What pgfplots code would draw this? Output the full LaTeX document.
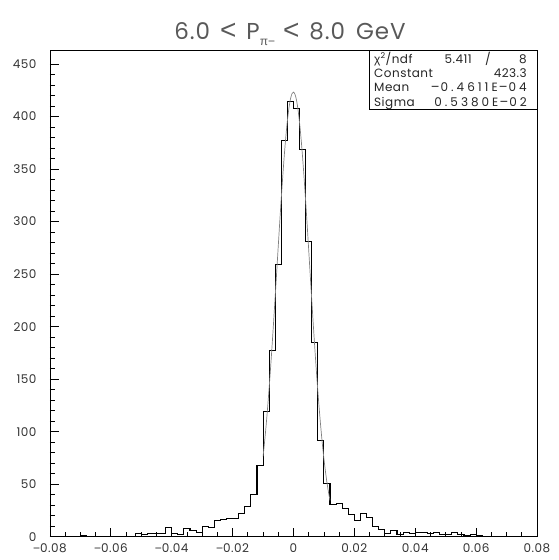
\documentclass[border=0pt]{standalone}
\usepackage{fontspec}
\setmainfont{Poppins}[LetterSpace=4, Numbers=Monospaced]
\newfontfamily\lib{Liberation Sans}
\newfontfamily\ttl{Poppins}[LetterSpace=4]
\newfontfamily\wid{Poppins}[LetterSpace=25]
\newcommand\mn{{\lib −}}
\newcommand\bmn{\makebox[11pt]{\lib\fontsize{14}{14}\selectfont −}}
\usepackage{pgfplots}
\usepackage{pgfplotstable}
\pgfplotsset{compat=1.18}
\pgfplotstableread{
x y
-0.080 0
-0.078 0
-0.076 0
-0.074 0
-0.072 0
-0.070 1
-0.068 0
-0.066 0
-0.064 0
-0.062 0
-0.060 0
-0.058 0
-0.056 0
-0.054 0
-0.052 3
-0.050 2
-0.048 3
-0.046 3
-0.044 3
-0.042 9
-0.040 3
-0.038 2
-0.036 8
-0.034 6
-0.032 4
-0.030 10
-0.028 9
-0.026 15
-0.024 16
-0.022 17
-0.020 17
-0.018 22
-0.016 29
-0.014 40
-0.012 68
-0.010 119
-0.008 177
-0.006 259
-0.004 377
-0.002 414
0.000 408
0.002 369
0.004 281
0.006 185
0.008 92
0.010 51
0.012 31
0.014 32
0.016 27
0.018 21
0.020 15
0.022 22
0.024 18
0.026 10
0.028 7
0.030 3
0.032 6
0.034 2
0.036 4
0.038 3
0.040 4
0.042 4
0.044 3
0.046 4
0.048 2
0.050 2
0.052 4
0.054 2
0.056 1
0.058 2
0.060 1
0.062 0
0.064 0
0.066 0
0.068 0
0.070 0
0.072 0
0.074 0
0.076 0
0.078 0
0.080 0
}\histdata
\pgfplotstableread{
x y
-0.0100 76.4
-0.0095 90.4
-0.0090 105.9
-0.0085 123.2
-0.0080 141.9
-0.0075 162.1
-0.0070 183.6
-0.0065 206.1
-0.0060 229.5
-0.0055 253.2
-0.0050 277.1
-0.0045 300.5
-0.0040 323.1
-0.0035 344.4
-0.0030 364.1
-0.0025 381.5
-0.0020 396.3
-0.0015 408.1
-0.0010 416.7
-0.0005 421.8
0.0000 423.3
0.0005 421.1
0.0010 415.4
0.0015 406.2
0.0020 393.8
0.0025 378.5
0.0030 360.6
0.0035 340.7
0.0040 319.0
0.0045 296.2
0.0050 272.7
0.0055 248.9
0.0060 225.1
0.0065 201.9
0.0070 179.6
0.0075 158.3
0.0080 138.3
0.0085 119.9
0.0090 103.0
0.0095 87.7
0.0100 74.0
0.0105 62.0
0.0110 51.4
0.0115 42.3
0.0120 34.5
}\fitdata
\begin{document}
\begin{tikzpicture}
\useasboundingbox (-50pt,-23.3pt) rectangle (508pt,536.7pt);
\begin{axis}[
  scale only axis, width=487pt, height=486pt,
  at={(0pt,0pt)}, anchor=south west,
  xmin=-0.08, xmax=0.08, ymin=0, ymax=462.7,
  xtick={-0.08,-0.06,-0.04,-0.02,0,0.02,0.04,0.06,0.08},
  xticklabels={\mn0.08,\mn0.06,\mn0.04,\mn0.02,0,0.02,0.04,0.06,0.08},
  ytick={0,50,100,150,200,250,300,350,400,450},
  minor x tick num=3, minor y tick num=4,
  scaled x ticks=false,
  tick align=inside, xtick pos=left, ytick pos=left,
  major tick length=9pt, minor tick length=5pt,
  tick style={black, line width=0.8pt},
  axis line style={line width=0.9pt},
  ticklabel style={font=\fontsize{12}{14}\selectfont, text=black!80},
  /pgf/number format/assume math mode=true,
  yticklabel style={xshift=-10pt},
  xticklabel style={yshift=-3pt},
]
\addplot[const plot mark left, black, line width=1.1pt] table[x=x,y=y] {\histdata};
\addplot[black!50, line width=0.7pt, smooth] table[x=x,y=y] {\fitdata};
\end{axis}
\node[anchor=base, text=black!65, font=\fontsize{23}{27}\selectfont\ttl] at (240pt,496.7pt)
  {6.0\hspace{10pt}{\lib\fontsize{28}{28}\selectfont<}\hspace{10pt}P{\raisebox{-0.45ex}{\fontsize{12}{12}\selectfont\lib π−}}\hspace{8pt}{\lib\fontsize{28}{28}\selectfont<}\hspace{10pt}8.0\hspace{4pt} GeV};
\draw[line width=0.8pt, fill=white] (319.5pt,427.3pt) rectangle (487pt,486pt);
\begin{scope}[every node/.style={inner sep=0pt, font=\fontsize{12}{14}\selectfont, text=black!85}]
\node[anchor=base west] at (324pt,473.4pt) {{\lib χ}\textsuperscript{2}/ndf};
\node[anchor=base east] at (422pt,473.4pt) {5.411};
\node[anchor=base] at (438pt,473.4pt) {/};
\node[anchor=base east] at (477pt,473.4pt) {8};
\node[anchor=base west] at (324pt,459.1pt) {Constant};
\node[anchor=base east] at (477pt,459.1pt) {423.3};
\node[anchor=base west] at (324pt,444.8pt) {Mean};
\node[anchor=base east] at (477pt,444.8pt) {\bmn{\wid 0.4611E}\bmn{\wid 04}};
\node[anchor=base west] at (324pt,430.5pt) {Sigma};
\node[anchor=base east] at (477pt,430.5pt) {{\wid 0.5380E}\bmn{\wid 02}};
\end{scope}
\end{tikzpicture}
\end{document}
